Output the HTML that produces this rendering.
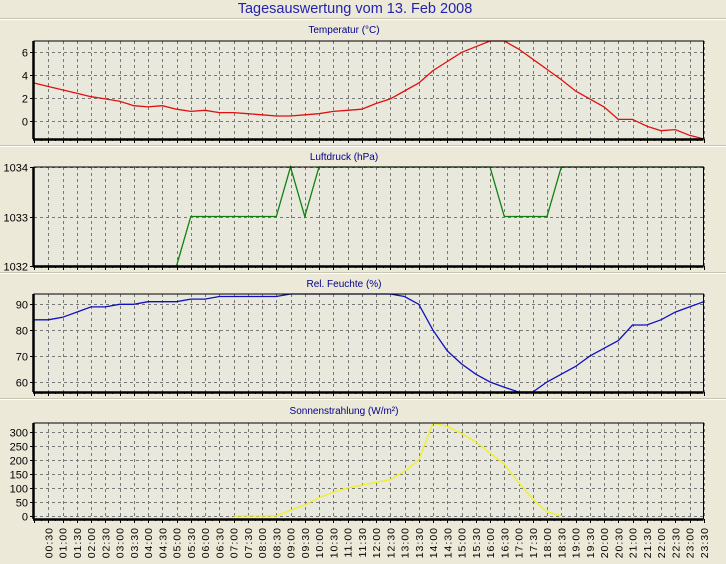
<!DOCTYPE html>
<html><head><meta charset="utf-8"><style>
html,body{margin:0;padding:0;background:#ece9d8;}
svg{display:block;font-family:"Liberation Sans",sans-serif;}
</style></head><body>
<svg id="s" width="726" height="564" xmlns="http://www.w3.org/2000/svg">
<rect width="726" height="564" fill="#ece9d8"/>
<text x="355" y="13" font-size="14.5" fill="#2323b0" text-anchor="middle">Tagesauswertung vom 13. Feb 2008</text>
</svg>
<script>
const s=document.getElementById('s');const NS='http://www.w3.org/2000/svg';
function el(t,a,txt){const e=document.createElementNS(NS,t);for(const k in a)e.setAttribute(k,a[k]);if(txt!==undefined)e.textContent=txt;s.appendChild(e);return e;}
const L=34,R=703.5;const X=h=>L+h*28.5;
[18,145,272,398].forEach(y=>{el('line',{x1:0,x2:726,y1:y+0.5,y2:y+0.5,stroke:'#c8c5b4'});el('line',{x1:0,x2:726,y1:y+1.5,y2:y+1.5,stroke:'#fff'});});
function panel(title,ty,top,bot,yt,Y,data,color,minor){
 el('rect',{x:L,y:top,width:R-L,height:bot-top,fill:'#e8e8dc'});
 el('text',{x:344,y:ty,'font-size':10,fill:'#00008b','text-anchor':'middle'},title);
 for(let i=1;i<=47;i++){const x=Math.round(X(i*0.5))+0.5;el('line',{x1:x,x2:x,y1:top,y2:bot,stroke:'#777','stroke-dasharray':'3,3'});}
 yt.forEach(v=>{const y=Math.round(Y(v))+0.5;el('line',{x1:L,x2:R,y1:y,y2:y,stroke:'#777','stroke-dasharray':'3,3'});el('line',{x1:L-4,x2:L,y1:y,y2:y,stroke:'#000'});el('text',{x:L-6,y:y+4,'font-size':11,'text-anchor':'end',fill:'#000'},String(v));});
 for(let i=0;i<=94;i++){const x=Math.round(X(i*0.25))+0.5;el('line',{x1:x,x2:x,y1:bot,y2:bot+(i%2?2:4),stroke:'#000'});}
 const pts=data.map(d=>X(d[0]).toFixed(1)+','+Math.max(top,Math.min(bot,Y(d[1]))).toFixed(1)).join(' ');
 el('polyline',{points:pts,fill:'none',stroke:color,'stroke-width':1.3});
 el('rect',{x:L,y:top,width:R-L,height:bot-top,fill:'none',stroke:'#000','stroke-width':1});
 el('line',{x1:L-1,x2:R,y1:bot+0.5,y2:bot+0.5,stroke:'#000','stroke-width':2.5});
 el('line',{x1:L-0.5,x2:L-0.5,y1:top,y2:bot,stroke:'#000','stroke-width':2.5});
}
const tv=[3.3,3.0,2.7,2.4,2.1,1.9,1.7,1.3,1.2,1.3,1.0,0.8,0.9,0.7,0.7,0.6,0.5,0.4,0.4,0.5,0.6,0.8,0.9,1.0,1.5,1.9,2.6,3.3,4.4,5.2,6.0,6.5,7.0,7.0,6.3,5.4,4.5,3.6,2.6,1.9,1.2,0.1,0.1,-0.5,-0.9,-0.8,-1.3,-1.7];
panel('Temperatur (°C)',33,41,139,[6,4,2,0],v=>120.5-v*11.35,tv.map((v,i)=>[i/2,v]),'#e01010');
const pv=[[0,1032],[5,1032],[5.5,1033],[8.5,1033],[9,1034],[9.5,1033],[10,1034],[16,1034],[16.5,1033],[18,1033],[18.5,1034],[23.5,1034]];
panel('Luftdruck (hPa)',160,167,266,[1034,1033,1032],v=>266-(v-1032)*49.5,pv,'#108010');
const hv=[84,84,85,87,89,89,90,90,91,91,91,92,92,93,93,93,93,93,94,94,94,94,94,94,94,94,93,90,80,72,67,63,60,58,56,56,60,63,66,70,73,76,82,82,84,87,89,91];
panel('Rel. Feuchte (%)',287,294,392,[90,80,70,60],v=>304.3-(v-90)*2.59,hv.map((v,i)=>[i/2,v]),'#1010c0');
const sv=[[7,0],[8.5,0],[9,20],[9.5,40],[10,65],[10.5,85],[11,100],[11.5,110],[12,120],[12.5,130],[13,160],[13.5,200],[14,335],[14.5,320],[15,295],[15.5,265],[16,225],[16.5,185],[17,120],[17.5,60],[18,15],[18.5,0]];
panel('Sonnenstrahlung (W/m²)',414,423,519,[300,250,200,150,100,50,0],v=>516-v*0.28,sv,'#f0f020');
for(let i=1;i<=47;i++){const h=i*0.5;const hh=String(Math.floor(h)).padStart(2,'0');const mm=(i%2)?'30':'00';const x=X(h);
 el('text',{x:0,y:0,'font-size':10.5,'letter-spacing':'1','text-anchor':'end',fill:'#000',transform:`translate(${x+4},527) rotate(-90)`},hh+':'+mm);}
</script>
</body></html>
